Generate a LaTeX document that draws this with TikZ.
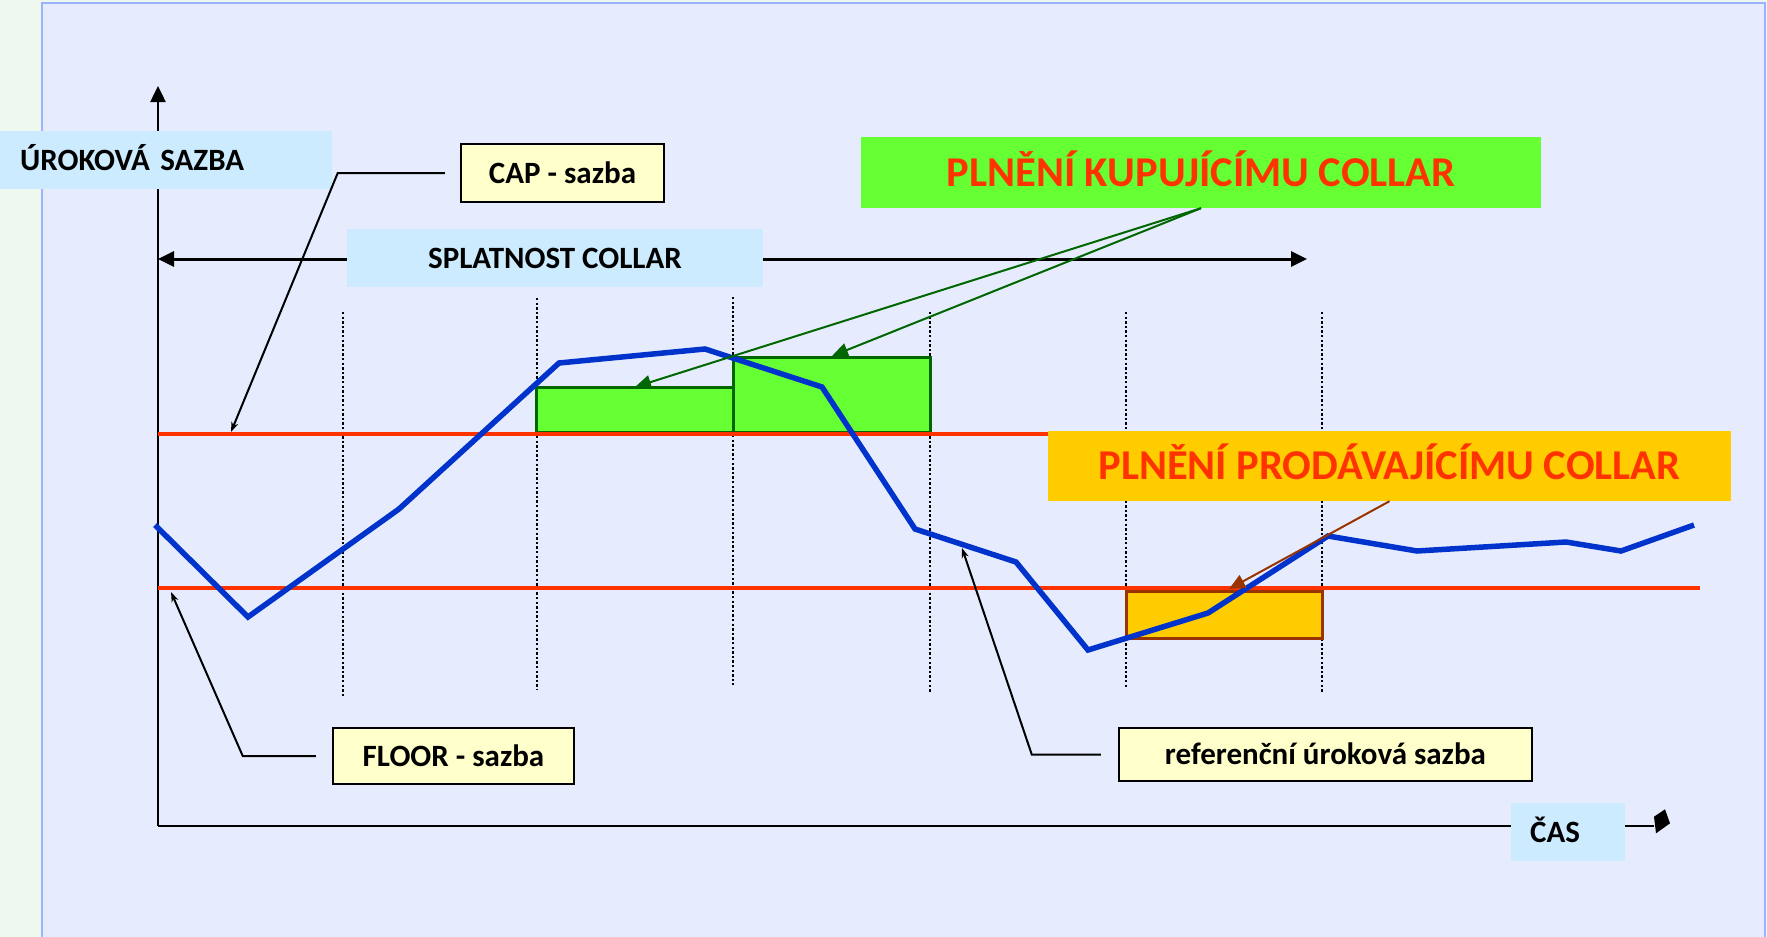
\documentclass[tikz,border=0pt]{standalone}
\usepackage{fontspec}
\setmainfont{Carlito}
\usetikzlibrary{arrows.meta}

\definecolor{stripbg}{HTML}{EEF8EE}
\definecolor{panelbg}{HTML}{E6ECFE}
\definecolor{panelrule}{HTML}{99B3FF}
\definecolor{labelblue}{HTML}{CCEBFE}
\definecolor{noteyellow}{HTML}{FFFFCC}
\definecolor{buygreen}{HTML}{66FF33}
\definecolor{buydark}{HTML}{006600}
\definecolor{sellorange}{HTML}{FFCC00}
\definecolor{sellbrown}{HTML}{993300}
\definecolor{limitred}{HTML}{FF3300}
\definecolor{rateblue}{HTML}{0033CC}

\newcommand\lblfont{\fontsize{31}{37}\selectfont\bfseries}
\newcommand\headfont{\fontsize{42.5}{50}\selectfont\bfseries}

\begin{document}
\begin{tikzpicture}[x=1pt,y=-1pt,
  lbbox/.style={fill=labelblue, inner sep=0pt, font=\lblfont,
    text height=20pt, text depth=0pt},
  notebox/.style={draw=black, line width=2.5pt, fill=noteyellow, inner sep=0pt,
    font=\lblfont, text height=20pt, text depth=0pt},
  headbox/.style={inner sep=0pt, font=\headfont, text=limitred,
    text height=27pt, text depth=0pt},
  axisline/.style={draw=black, line width=2.5pt},
  callout/.style={draw=black, line width=2pt,
    -{Stealth[length=10pt,width=7pt]}},
  buyarrow/.style={draw=buydark, line width=2pt,
    -{Triangle[length=16pt,width=14pt]}},
  sellarrow/.style={draw=sellbrown, line width=2pt,
    -{Triangle[length=16pt,width=14pt]}},
  period/.style={draw=black, line width=2.6pt, dash pattern=on 2.4pt off 2.2pt},
  limit/.style={draw=limitred, line width=4pt},
  buyrect/.style={draw=buydark, line width=3pt, fill=buygreen},
  sellrect/.style={draw=sellbrown, line width=3pt, fill=sellorange},
  rate/.style={draw=rateblue, line width=5.5pt}
]
\useasboundingbox (0,0) rectangle (1767,937);

% page and panel
\fill[stripbg] (0,0) rectangle (1767,937);
\fill[panelbg] (42,3) rectangle (1765,937);
\draw[panelrule, line width=2pt] (42,937) -- (42,3) -- (1765,3) -- (1765,937);

% axes
\coordinate (O) at (158,826);
\coordinate (ytop) at (158,86);
\coordinate (xend) at (1654,826);
\draw[axisline, -{Triangle[length=16pt,width=15pt]}] (O) -- (ytop);
\draw[axisline] (O) -- (xend);
\fill[black] (1654,816.7) -- (1665,809.3) -- (1670,823.3) -- (1656,833.3) -- cycle;

% maturity of the collar
\coordinate (matL) at (158,259);
\coordinate (matR) at (1307,259);
\draw[axisline, line width=3pt,
  {Triangle[length=16pt,width=15pt]}-{Triangle[length=16pt,width=15pt]}] (matL) -- (matR);

% settlement periods
\foreach \px/\ya/\yb in {343/312/696, 537/298/690, 733/297/685,
                         930/312/692, 1126/312/687, 1322/312/692}
  \draw[period] (\px,\ya) -- (\px,\yb);

% payoffs
\draw[buyrect] (536,387) rectangle (733,432);
\draw[buyrect] (733,357) rectangle (930,432);
\draw[sellrect] (1126,591) rectangle (1322,638);

% cap and floor levels
\coordinate (capL) at (158,434);
\coordinate (capR) at (1700,434);
\coordinate (flrL) at (158,588);
\coordinate (flrR) at (1700,588);
\draw[limit] (capL) -- (capR);
\draw[limit] (flrL) -- (flrR);

% reference rate path
\draw[rate] (155,525) -- (248,617) -- (399,509) -- (559,363) -- (705,349)
  -- (822,387) -- (915,529) -- (1016,562) -- (1088,650) -- (1208,613)
  -- (1328,536) -- (1417,551) -- (1566,542) -- (1621,551) -- (1694,525);

% labels
\node[lbbox, anchor=west, minimum height=58pt, text width=292pt,
  inner xsep=20pt, align=left] (urok) at (0,160) {ÚROKOVÁ SAZBA};
\node[lbbox, minimum width=416pt, minimum height=58pt] (splat) at (555,258) {SPLATNOST COLLAR};
\node[lbbox, anchor=west, minimum height=58pt, text width=76pt,
  inner xsep=19pt, align=left] (cas) at (1511,832) {ČAS};
\node[notebox, minimum width=203pt, minimum height=58pt] (cap) at (562.5,173) {CAP - sazba};
\node[notebox, minimum width=241pt, minimum height=56pt] (floor) at (453.5,756) {FLOOR - sazba};
\node[notebox, minimum width=413pt, minimum height=53pt] (refr) at (1325.5,754.5) {referenční úroková sazba};
\node[headbox, fill=buygreen, minimum width=680pt, minimum height=71pt] (kup) at (1201,172.5) {PLNĚNÍ KUPUJÍCÍMU COLLAR};
\node[headbox, fill=sellorange, minimum width=683pt, minimum height=70pt] (prod) at (1389.5,466) {PLNĚNÍ PRODÁVAJÍCÍMU COLLAR};

% callouts
\coordinate (capTip) at (231,432);
\coordinate (flrTip) at (171,592);
\coordinate (refTip) at (962,548);
\draw[callout] ([xshift=-15pt]cap.west) -- ++(-107,0) -- (capTip);
\draw[callout] ([xshift=-16pt]floor.west) -- ++(-73,0) -- (flrTip);
\draw[callout] ([xshift=-17pt]refr.west) -- ++(-69,0) -- (refTip);

\coordinate (buyTipA) at (635,387);
\coordinate (buyTipB) at (832,356);
\coordinate (sellTip) at (1229,589);
\draw[buyarrow] (kup.south) -- (buyTipA);
\draw[buyarrow] (kup.south) -- (buyTipB);
\draw[sellarrow] (prod.south) -- (sellTip);
\end{tikzpicture}
\end{document}
